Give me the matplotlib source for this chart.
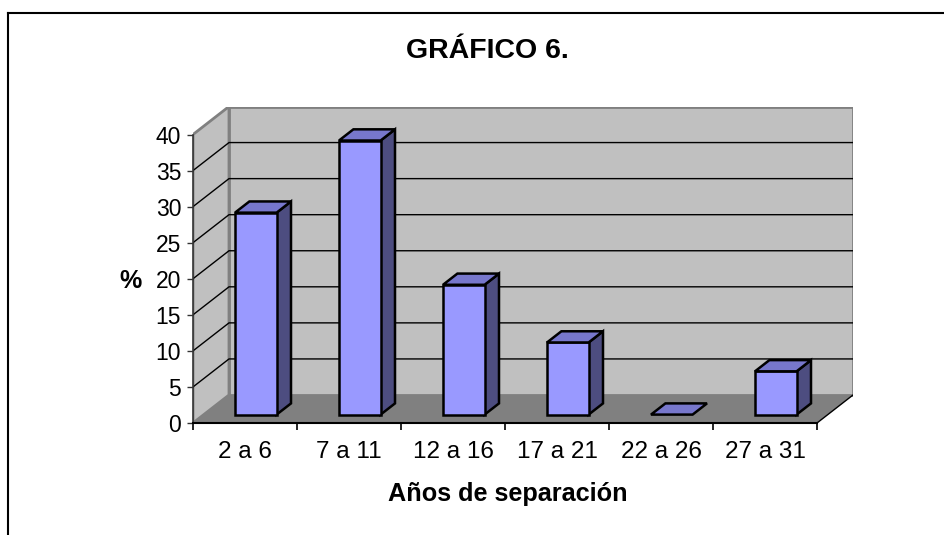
import matplotlib
matplotlib.use("Agg")
import matplotlib.pyplot as plt
from matplotlib.patches import Polygon
from matplotlib.lines import Line2D

plt.rcParams['font.family'] = ['Liberation Sans', 'DejaVu Sans']

# ---- data ----
categories = ["2 a 6", "7 a 11", "12 a 16", "17 a 21", "22 a 26", "27 a 31"]
values = [28, 38, 18, 10, 0, 6]
yticks = [0, 5, 10, 15, 20, 25, 30, 35, 40]
title = "GRÁFICO 6."
xlabel = "Años de separación"
ylabel = "%"

# ---- geometry (front plane in pixels) ----
W, H = 944, 535
px_x0, px_x6 = 193, 817
px_y0, px_y40 = 423, 134.5
n = len(categories)
ymax = 40
DX = 36 / ((px_x6 - px_x0) / n)          # depth offset in category units
DY = 28 / ((px_y0 - px_y40) / ymax)      # depth offset in value units

fig = plt.figure(figsize=(W / 100, H / 100), dpi=100)
w_px = (px_x6 - px_x0) * (n + DX) / n
h_px = (px_y0 - px_y40) * (ymax + DY) / ymax
ax = fig.add_axes([px_x0 / W, 1 - px_y0 / H, w_px / W, h_px / H])
ax.set_xlim(0, n + DX)
ax.set_ylim(0, ymax + DY)
ax.patch.set_visible(False)

wall = "#c0c0c0"
floor = "#808080"
edge_gray = "#808080"

# left wall
ax.add_patch(Polygon([(0, 0), (DX, DY), (DX, ymax + DY), (0, ymax)],
                     closed=True, facecolor=wall, edgecolor=edge_gray, lw=2, zorder=1))
# back wall
ax.add_patch(Polygon([(DX, DY), (n + DX, DY), (n + DX, ymax + DY), (DX, ymax + DY)],
                     closed=True, facecolor=wall, edgecolor=edge_gray, lw=2, zorder=1))
# floor
ax.add_patch(Polygon([(0, 0), (n, 0), (n + DX, DY), (DX, DY)],
                     closed=True, facecolor=floor, edgecolor='none', zorder=2))
ax.plot([n, n + DX], [0, DY], color='black', lw=1, zorder=3)

# gridlines
for v in yticks[1:-1]:
    ax.plot([0, DX, n + DX], [v, v + DY, v + DY], color='black', lw=1, zorder=3)

# bars
f0, f1 = 0.3, 0.7
bw = 0.4
ax0, ay0 = f0 * DX, f0 * DY
bx0, by0 = f1 * DX, f1 * DY
for i, v in enumerate(values):
    c = i + 0.5
    xl, xr = c - bw / 2, c + bw / 2
    kw = dict(closed=True, edgecolor='black', lw=1.8, joinstyle='miter', zorder=5)
    if v > 0:
        ax.add_patch(Polygon([(xr + ax0, ay0), (xr + bx0, by0), (xr + bx0, v + by0), (xr + ax0, v + ay0)],
                             facecolor="#4d4d80", **kw))
        ax.add_patch(Polygon([(xl + ax0, ay0), (xr + ax0, ay0), (xr + ax0, v + ay0), (xl + ax0, v + ay0)],
                             facecolor="#9999ff", **kw))
    ax.add_patch(Polygon([(xl + ax0, v + ay0), (xr + ax0, v + ay0), (xr + bx0, v + by0), (xl + bx0, v + by0)],
                         facecolor="#7777cc", **kw))

# axes / ticks
for s in ['top', 'right']:
    ax.spines[s].set_visible(False)
ax.spines['left'].set_bounds(0, ymax)
ax.spines['bottom'].set_bounds(0, n)
ax.spines['left'].set_color('#333333')
ax.spines['bottom'].set_color('black')
ax.spines['left'].set_linewidth(1.2)
ax.spines['bottom'].set_linewidth(1.5)
ax.spines['left'].set_zorder(6)
ax.spines['bottom'].set_zorder(6)

ax.set_yticks(yticks)
ax.set_yticklabels([str(t) for t in yticks])
ax.tick_params(axis='y', length=4.5, width=1, pad=4, labelsize=16.5, color='#333333')

ax.set_xticks([i + 0.5 for i in range(n)])
ax.set_xticklabels(categories)
ax.set_xticks(list(range(n + 1)), minor=True)
ax.tick_params(axis='x', which='major', length=0, pad=13, labelsize=17.5)
ax.tick_params(axis='x', which='minor', length=5, width=1.2, color='black')

# texts
fig.text(487 / W, 1 - 51 / H, title, ha='center', va='center', fontsize=20.5, fontweight='bold')
fig.text(131 / W, 1 - 281 / H, ylabel, ha='center', va='center', fontsize=18, fontweight='bold')
fig.text(508 / W, 1 - 494 / H, xlabel, ha='center', va='center', fontsize=18.2, fontweight='bold')

# chart frame (partially visible)
fig.add_artist(Line2D([8 / W, 1.0], [1 - 13 / H, 1 - 13 / H], transform=fig.transFigure, color='black', lw=1.5))
fig.add_artist(Line2D([8 / W, 8 / W], [0, 1 - 13 / H], transform=fig.transFigure, color='black', lw=1.5))

fig.savefig("out.png", dpi=100, facecolor='white')
